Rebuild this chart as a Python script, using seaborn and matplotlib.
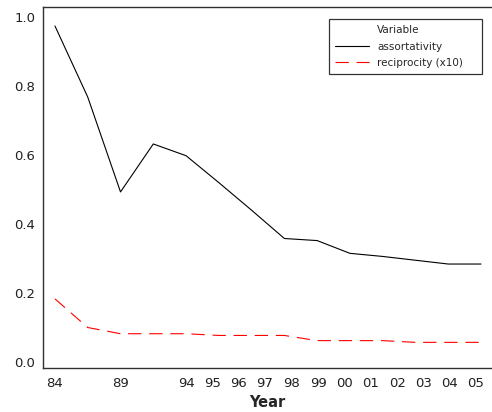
import numpy as np
import pandas as pd
import matplotlib
matplotlib.use("Agg")
import matplotlib.pyplot as plt
from matplotlib.lines import Line2D
import seaborn as sns

step = np.arange(14)
assortativity = [0.974, 0.768, 0.493, 0.632, 0.598, 0.52, 0.44, 0.358,
                 0.352, 0.315, 0.306, 0.295, 0.284, 0.284]
reciprocity_x10 = [0.183, 0.10, 0.082, 0.082, 0.082, 0.077, 0.077, 0.077,
                   0.062, 0.062, 0.062, 0.057, 0.057, 0.057]

year_labels = ["84", "89", "94", "95", "96", "97", "98", "99",
               "00", "01", "02", "03", "04", "05"]
year_ticks = [0, 2.01, 4.01, 4.81, 5.61, 6.41, 7.21, 8.03,
              8.83, 9.64, 10.45, 11.25, 12.04, 12.83]

df = pd.DataFrame({
    "step": np.concatenate([step, step]),
    "value": assortativity + reciprocity_x10,
    "Variable": ["assortativity"] * 14 + ["reciprocity (x10)"] * 14,
})

sns.set_style("white")
plt.rcParams["font.family"] = ["DejaVu Sans"]

fig = plt.figure(figsize=(4.92, 4.12), dpi=100)
ax = fig.add_axes([0.0884, 0.1075, 0.9106, 0.8755])

sns.lineplot(data=df, x="step", y="value", hue="Variable", style="Variable",
             palette={"assortativity": "black", "reciprocity (x10)": "#ff0000"},
             dashes={"assortativity": "", "reciprocity (x10)": (12, 7)},
             linewidth=0.8, ax=ax, legend=True)

ax.set_xlim(-0.35, 13.32)
ax.set_ylim(-0.0165, 1.029)
ax.set_xticks(year_ticks)
ax.set_xticklabels(year_labels)
ax.set_yticks([0.0, 0.2, 0.4, 0.6, 0.8, 1.0])
ax.set_yticklabels(["0.0", "0.2", "0.4", "0.6", "0.8", "1.0"])
ax.tick_params(axis="both", direction="out", length=4, width=0.9,
               color="#303030", labelsize=9.5, pad=2, labelcolor="#202020")
ax.tick_params(axis="x", pad=3)
ax.set_xlabel("Year", fontsize=10.5, fontweight="bold", labelpad=3)
ax.set_ylabel("")

for side in ["left", "bottom", "top"]:
    ax.spines[side].set_color("#303030")
    ax.spines[side].set_linewidth(1.0)
ax.spines["right"].set_visible(False)

handles, labels = ax.get_legend_handles_labels()
blank = Line2D([], [], color="none")
leg = ax.legend([blank] + handles, ["Variable"] + labels,
                loc="upper left", bbox_to_anchor=(0.6366, 0.817, 0.3414, 0.1497),
                mode="expand",
                frameon=True, fancybox=False, fontsize=7.5,
                handlelength=3.3, handletextpad=0.75, borderpad=0.6,
                labelspacing=0.6, borderaxespad=0)
leg.get_frame().set_edgecolor("black")
leg.get_frame().set_linewidth(0.9)

fig.savefig("out.png", dpi=100)
